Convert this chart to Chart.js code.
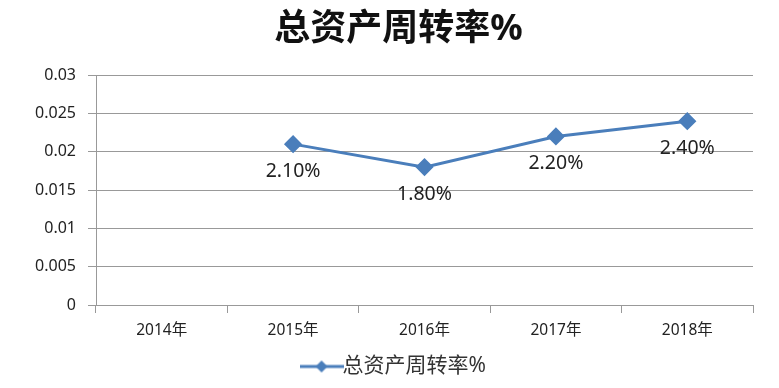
<!DOCTYPE html>
<html lang="zh">
<head>
<meta charset="UTF-8">
<title>总资产周转率%</title>
<script src="https://cdn.jsdelivr.net/npm/chart.js"></script>
<style>
  html, body { margin: 0; padding: 0; background: #fff; }
  #wrap { width: 779px; height: 388px; }
</style>
</head>
<body>
<div id="wrap"><canvas id="c" width="779" height="388"></canvas></div>
<script>
// 数据
var years = ['2014年', '2015年', '2016年', '2017年', '2018年'];
var turnover = [null, 0.021, 0.018, 0.022, 0.024];
var turnoverLabels = [null, '2.10%', '1.80%', '2.20%', '2.40%'];
var yTicks = [0, 0.005, 0.01, 0.015, 0.02, 0.025, 0.03];

var blue = '#4a7ebb';
var fontFam = "'Noto Sans', 'Noto Sans CJK SC', sans-serif";

// 图例里的线+菱形
function legendIcon() {
    var cv = document.createElement('canvas');
    cv.width = 44; cv.height = 14;
    var g = cv.getContext('2d');
    g.strokeStyle = blue; g.lineWidth = 3;
    g.beginPath(); g.moveTo(0, 7); g.lineTo(44, 7); g.stroke();
    g.fillStyle = blue;
    g.beginPath(); g.moveTo(22, 1); g.lineTo(28, 7); g.lineTo(22, 13); g.lineTo(16, 7); g.closePath(); g.fill();
    return cv;
}

// 数据标签 (画在点的下方)
var labelPlugin = {
    id: 'pointLabels',
    afterDatasetsDraw: function (chart) {
        var ctx = chart.ctx;
        var meta = chart.getDatasetMeta(0);
        ctx.save();
        ctx.font = '19.5px ' + fontFam;
        ctx.fillStyle = '#222';
        ctx.textAlign = 'center';
        ctx.textBaseline = 'middle';
        meta.data.forEach(function (pt, i) {
            if (turnover[i] == null) return;
            ctx.fillText(turnoverLabels[i], pt.x, pt.y + 27);
        });
        ctx.restore();
    }
};

var icon = legendIcon();

new Chart(document.getElementById('c').getContext('2d'), {
    type: 'line',
    data: {
        labels: years,
        datasets: [{
            label: '总资产周转率%',
            data: turnover,
            borderColor: blue,
            backgroundColor: blue,
            borderWidth: 3,
            pointStyle: 'rectRot',
            pointRadius: 7,
            pointHoverRadius: 7,
            tension: 0,
            spanGaps: false
        }]
    },
    options: {
        responsive: false,
        animation: false,
        layout: { padding: { left: 18, right: 0, top: 0, bottom: 1 } },
        plugins: {
            title: {
                display: true,
                text: '总资产周转率%',
                color: '#111',
                font: { size: 36, weight: 'bold', family: fontFam },
                padding: { top: 8, bottom: 24 }
            },
            legend: {
                position: 'bottom',
                labels: {
                    usePointStyle: true,
                    color: '#333',
                    font: { size: 21, family: fontFam },
                    generateLabels: function (chart) {
                        return [{
                            text: '总资产周转率%',
                            pointStyle: icon,
                            fillStyle: blue,
                            strokeStyle: blue,
                            lineWidth: 0,
                            datasetIndex: 0,
                            fontColor: '#333'
                        }];
                    }
                }
            },
            tooltip: { enabled: false }
        },
        scales: {
            x: {
                offset: true,
                grid: {
                    offset: true,
                    drawOnChartArea: false,
                    color: '#999',
                    tickLength: 8
                },
                border: { color: '#999' },
                ticks: {
                    color: '#222',
                    font: { size: 15.5, family: fontFam },
                    padding: 8,
                    maxRotation: 0
                },
                afterFit: function (s) { s.height = 41; }
            },
            y: {
                min: 0,
                max: 0.03,
                afterBuildTicks: function (s) {
                    s.ticks = yTicks.map(function (v) { return { value: v }; });
                },
                grid: { color: '#999', tickLength: 8 },
                border: { color: '#999' },
                ticks: {
                    color: '#222',
                    font: { size: 16, family: fontFam },
                    padding: 12,
                    callback: function (v) { return String(+v.toFixed(3)); }
                },
                afterFit: function (s) { s.width = 78; }
            },
            // 右侧留白
            gap: {
                position: 'right',
                grid: { display: false },
                border: { display: false },
                ticks: { display: false },
                afterFit: function (s) { s.width = 26; }
            }
        }
    },
    plugins: [labelPlugin]
});
</script>
</body>
</html>
